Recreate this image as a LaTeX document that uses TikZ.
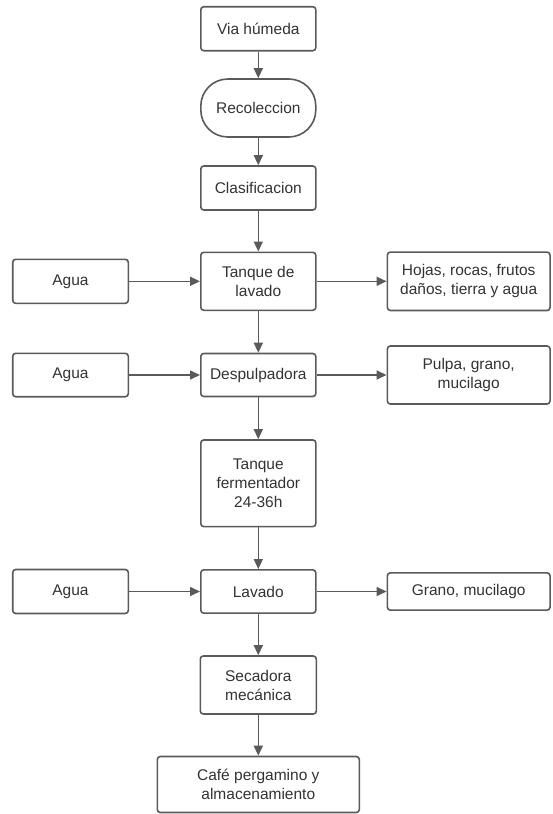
\documentclass[tikz,border=0pt]{standalone}
\usepackage{fontspec}
\setmainfont{Liberation Sans}
\usetikzlibrary{arrows.meta}
\definecolor{edge}{HTML}{5A5A5A}
\definecolor{ink}{HTML}{333333}
\begin{document}
\begin{tikzpicture}[x=1pt,y=-1pt,
  box/.style={draw=edge, line width=1.6pt, rounded corners=3pt, fill=white,
    text=ink, align=center, inner sep=0pt,
    font=\fontsize{15.5pt}{19pt}\selectfont},
  stadium/.style={box, rounded corners=27pt},
  flow/.style={draw=edge, line width=1.6pt, -{Triangle[length=10pt,width=9pt]}}]
  \useasboundingbox (0,0) rectangle (552,814);

  % main column
  \node[box, minimum width=115pt, minimum height=44pt] (via) at (258.3,28.7) {Via húmeda};
  \node[stadium, minimum width=115pt, minimum height=58pt] (reco) at (258.3,108) {Recoleccion};
  \node[box, minimum width=115pt, minimum height=44pt] (clas) at (258.3,188) {Clasificacion};
  \node[box, minimum width=115pt, minimum height=58pt] (tanq) at (258.3,281.3) {Tanque de\\lavado};
  \node[box, minimum width=115pt, minimum height=43pt] (desp) at (258.3,375) {Despulpadora};
  \node[box, minimum width=115pt, minimum height=86.7pt] (ferm) at (258.3,483.3) {Tanque\\fermentador\\24-36h};
  \node[box, minimum width=115pt, minimum height=43.3pt] (lav) at (258.3,591.5) {Lavado};
  \node[box, minimum width=116pt, minimum height=58pt] (seca) at (258.3,685) {Secadora\\mecánica};
  \node[box, minimum width=202pt, minimum height=56pt] (cafe) at (258.3,784.5) {Café pergamino y\\almacenamiento};

  % inputs
  \node[box, minimum width=115.6pt, minimum height=44pt] (agua1) at (70.5,281.3) {Agua};
  \node[box, minimum width=115.6pt, minimum height=43.4pt] (agua2) at (70.5,375) {Agua};
  \node[box, minimum width=115.6pt, minimum height=44pt] (agua3) at (70.5,591.5) {Agua};

  % outputs
  \node[box, minimum width=162.7pt, minimum height=58.4pt] (hojas) at (468.7,281.3) {Hojas, rocas, frutos\\daños, tierra y agua};
  \node[box, minimum width=162.7pt, minimum height=58pt] (pulpa) at (468.7,375) {Pulpa, grano,\\mucilago};
  \node[box, minimum width=162.7pt, minimum height=37.3pt] (grano) at (468.7,591.5) {Grano, mucilago};

  % vertical flow
  \draw[flow] (via) -- (reco);
  \draw[flow] (reco) -- (clas);
  \draw[flow] (clas) -- (tanq);
  \draw[flow] (tanq) -- (desp);
  \draw[flow] (desp) -- (ferm);
  \draw[flow] (ferm) -- (lav);
  \draw[flow] (lav) -- (seca);
  \draw[flow] (seca) -- (cafe);

  % side flows
  \draw[flow] (agua1) -- (tanq);
  \draw[flow] (tanq) -- (hojas);
  \draw[flow] (agua2) -- (desp);
  \draw[flow] (desp) -- (pulpa);
  \draw[flow] (agua3) -- (lav);
  \draw[flow] (lav) -- (grano);
\end{tikzpicture}
\end{document}
